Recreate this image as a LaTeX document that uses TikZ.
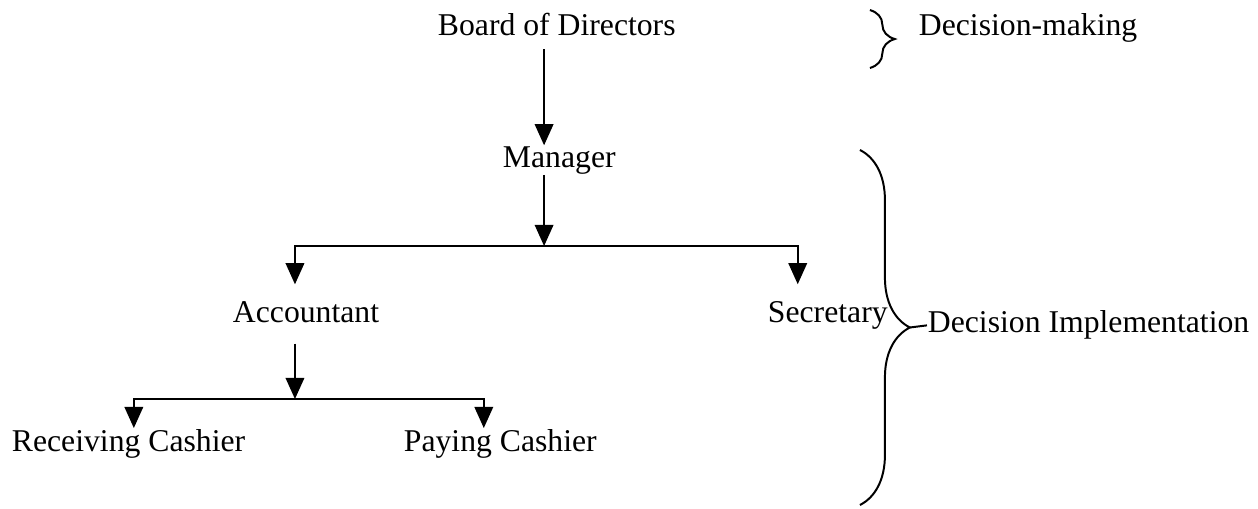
\documentclass[tikz,border=0pt]{standalone}
\usepackage{fontspec}
\setmainfont{Liberation Serif}
\usetikzlibrary{arrows.meta,decorations.pathreplacing}

\begin{document}
\begin{tikzpicture}[>={Triangle[length=8pt,width=7pt]}, line width=0.75pt,
    every node/.style={font=\fontsize{12}{14}\selectfont, inner sep=0pt, anchor=base west},
    curly/.style={decorate, decoration={brace, amplitude=#1}}]
      \useasboundingbox (0,0) rectangle (16.74,6.76);

      \node (1) at (5.815,6.294) {Board of Directors};
      \node (2) at (6.680,4.537) {Manager};
      \node (3) at (3.087,2.475) {Accountant};
      \node (4) at (10.206,2.475) {Secretary};
      \node (5) at (0.146,0.758) {Receiving Cashier};
      \node (6) at (5.362,0.758) {Paying Cashier};
      \node (7) at (12.215,6.294) {Decision-making};
      \node (8) at (12.335,2.329) {Decision Implementation};

      \coordinate (j1) at (7.24,3.486);
      \coordinate (j2) at (3.925,1.450);

      \draw[->, shorten <=0.17cm] (1.south -| j1) -- (2.north -| j1);
      \draw[->] (2.south -| j1) -- (j1);
      \draw[->, shorten >=0.21cm] (j1) -| (3.north -| j2);
      \draw[->, shorten >=0.21cm] (j1) -| ([xshift=-0.40cm]4.north);
      \draw[->, shorten <=0.27cm] (3.south -| j2) -- (j2);
      \draw[->] (j2) -| ([xshift=0.07cm]5.north);
      \draw[->] (j2) -| ([xshift=-0.22cm]6.north);

      % braces on the right
      \coordinate (b1) at (11.576,6.626);
      \coordinate (b2) at (11.576,5.855);
      \coordinate (b3) at (11.443,4.764);
      \coordinate (b4) at (11.443,0.040);
      \coordinate (t8) at (12.108,2.402);
      \draw[curly=0.33cm] (b1) -- (b2);
      \draw[curly=0.665cm] (b3) -- (b4);
      \draw (t8) -- (8.west);
    \end{tikzpicture}
\end{document}
